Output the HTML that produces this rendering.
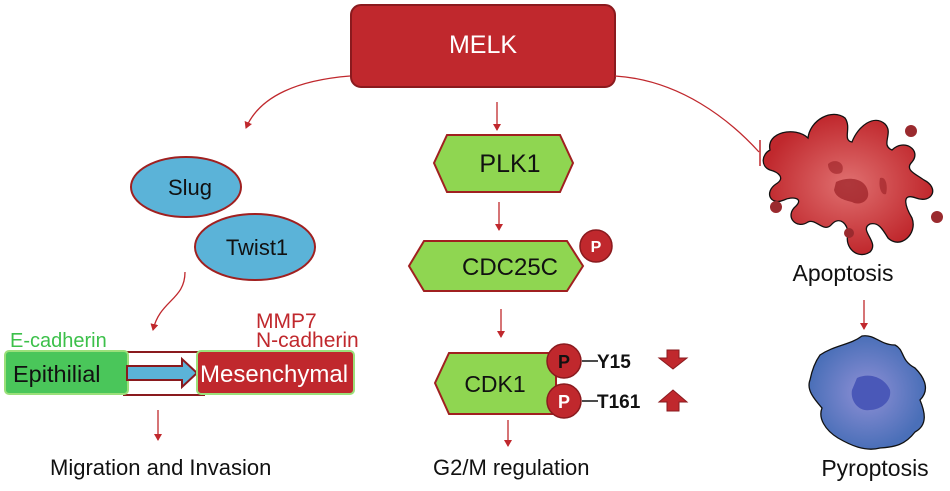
<!DOCTYPE html>
<html><head><meta charset="utf-8"><style>
html,body{margin:0;padding:0;background:#fff;}
svg{display:block;font-family:"Liberation Sans",Arial,sans-serif;}
</style></head><body>
<svg width="950" height="491" viewBox="0 0 950 491" xmlns="http://www.w3.org/2000/svg">
<defs>
<marker id="ah" markerWidth="8" markerHeight="8" refX="6" refY="4" orient="auto" markerUnits="userSpaceOnUse">
<path d="M0,0 L7,4 L0,8 Z" fill="#c0282d"/></marker>
<radialGradient id="rg" cx="50%" cy="50%" r="50%"><stop offset="0" stop-color="#e07070"/><stop offset="1" stop-color="#c0282d"/></radialGradient>
<radialGradient id="bg" cx="50%" cy="50%" r="50%"><stop offset="0" stop-color="#8f90d6"/><stop offset="1" stop-color="#4a6fb8"/></radialGradient>
</defs>
<!-- MELK -->
<rect x="351" y="5" width="264" height="82" rx="10" fill="#c0282d" stroke="#8a1a1e" stroke-width="2"/>
<text x="483" y="53" font-size="25" fill="#fff" text-anchor="middle">MELK</text>
<!-- connectors -->
<path d="M350,76 C300,80 260,95 246,128" fill="none" stroke="#c0282d" stroke-width="1.3" marker-end="url(#ah)"/>
<line x1="497" y1="102" x2="497" y2="130" stroke="#c0282d" stroke-width="1.3" marker-end="url(#ah)"/>
<path d="M615,76 C680,80 730,120 759,152" fill="none" stroke="#c0282d" stroke-width="1.3"/>
<line x1="760" y1="140" x2="760" y2="166" stroke="#c0282d" stroke-width="1.5"/>
<!-- Slug / Twist1 -->
<ellipse cx="186" cy="187" rx="55" ry="30" fill="#5bb3d8" stroke="#a02020" stroke-width="2"/>
<text x="190" y="195" font-size="22" text-anchor="middle" fill="#111">Slug</text>
<ellipse cx="255" cy="247" rx="60" ry="33" fill="#5bb3d8" stroke="#a02020" stroke-width="2"/>
<text x="257" y="255" font-size="22" text-anchor="middle" fill="#111">Twist1</text>
<path d="M185,272 C185,300 160,300 153,330" fill="none" stroke="#c0282d" stroke-width="1.3" marker-end="url(#ah)"/>
<!-- EMT -->
<text x="10" y="347" font-size="20" fill="#3cc04a">E-cadherin</text>
<text x="256" y="328" font-size="21" fill="#c0282d">MMP7</text>
<text x="256" y="347" font-size="21" fill="#c0282d">N-cadherin</text>
<rect x="124" y="352" width="80" height="43" fill="#fff" stroke="#8a1a1e" stroke-width="2"/>
<rect x="5" y="351" width="123" height="43" rx="4" fill="#4ac65a" stroke="#9be07a" stroke-width="2"/>
<text x="13" y="382" font-size="23.5" fill="#111">Epithilial</text>
<path d="M127,366 L182,366 L182,359 L197,373 L182,387 L182,380 L127,380 Z" fill="#5bb3d8" stroke="#8a1a1e" stroke-width="2"/>
<rect x="197" y="351" width="157" height="43" rx="4" fill="#c0282d" stroke="#9be07a" stroke-width="2"/>
<text x="200" y="382" font-size="24" fill="#fff">Mesenchymal</text>
<line x1="158" y1="410" x2="158" y2="440" stroke="#c0282d" stroke-width="1.3" marker-end="url(#ah)"/>
<text x="50" y="475" font-size="22" fill="#111">Migration and Invasion</text>
<!-- central column -->
<polygon points="447,135 560,135 573,163 560,192 447,192 434,163" fill="#8fd651" stroke="#a02020" stroke-width="2"/>
<text x="510" y="172" font-size="25" text-anchor="middle" fill="#111">PLK1</text>
<line x1="499" y1="202" x2="499" y2="230" stroke="#c0282d" stroke-width="1.3" marker-end="url(#ah)"/>
<polygon points="424,241 567,241 583,266 567,291 424,291 409,266" fill="#8fd651" stroke="#a02020" stroke-width="2"/>
<text x="510" y="275" font-size="24" text-anchor="middle" fill="#111">CDC25C</text>
<circle cx="596" cy="246" r="16" fill="#c0282d" stroke="#8a1a1e" stroke-width="1.5"/>
<text x="596" y="252" font-size="16" font-weight="bold" text-anchor="middle" fill="#fff">P</text>
<line x1="501" y1="309" x2="501" y2="337" stroke="#c0282d" stroke-width="1.3" marker-end="url(#ah)"/>
<polygon points="449,353 556,353 556,414 449,414 435,383" fill="#8fd651" stroke="#a02020" stroke-width="2"/>
<text x="495" y="392" font-size="23" text-anchor="middle" fill="#111">CDK1</text>
<circle cx="564" cy="361" r="17" fill="#c0282d" stroke="#8a1a1e" stroke-width="1.5"/>
<text x="564" y="368" font-size="18" font-weight="bold" text-anchor="middle" fill="#111">P</text>
<circle cx="564" cy="401" r="17" fill="#c0282d" stroke="#8a1a1e" stroke-width="1.5"/>
<text x="564" y="408" font-size="18" font-weight="bold" text-anchor="middle" fill="#fff">P</text>
<line x1="582" y1="361" x2="598" y2="361" stroke="#111" stroke-width="1.5"/>
<text x="597" y="368" font-size="19" font-weight="bold" fill="#111">Y15</text>
<line x1="582" y1="401" x2="598" y2="401" stroke="#111" stroke-width="1.5"/>
<text x="597" y="408" font-size="19" font-weight="bold" fill="#111">T161</text>
<path d="M667,350 L679,350 L679,358 L687,358 L673,369 L659,358 L667,358 Z" fill="#c0282d" stroke="#8a1a1e"/>
<path d="M667,411 L679,411 L679,402 L687,402 L673,390 L659,402 L667,402 Z" fill="#c0282d" stroke="#8a1a1e"/>
<line x1="508" y1="420" x2="508" y2="446" stroke="#c0282d" stroke-width="1.3" marker-end="url(#ah)"/>
<text x="433" y="475" font-size="22" fill="#111">G2/M regulation</text>
<!-- Apoptosis -->
<path d="M770,150 C766,132 795,126 808,138 C810,120 832,108 845,118 C852,128 842,140 852,142 C858,126 874,114 885,124 C894,133 880,145 892,150 C904,138 922,150 912,162 C904,170 916,174 924,180 C940,188 932,204 916,198 C900,192 906,208 912,218 C918,234 900,250 888,238 C882,228 878,222 870,224 C858,230 880,242 870,252 C858,260 844,248 848,234 C848,224 840,216 832,224 C824,234 816,218 808,222 C796,230 784,216 796,206 C804,198 792,196 784,200 C770,206 764,192 776,184 C786,178 778,172 770,170 C760,166 762,154 770,150 Z" fill="url(#rg)" stroke="#111" stroke-width="1.3"/>
<path d="M836,182 C848,176 866,178 868,192 C870,202 858,206 852,202 C844,200 836,198 834,190 Z" fill="#9a2025" opacity="0.7"/>
<path d="M828,164 C834,158 846,162 842,172 C838,176 828,174 828,164 Z" fill="#9a2025" opacity="0.6"/>
<path d="M880,178 C886,176 888,186 886,194 C882,196 878,188 880,178 Z" fill="#9a2025" opacity="0.6"/>
<circle cx="911" cy="131" r="6" fill="#9a2a2e"/>
<circle cx="776" cy="207" r="6" fill="#9a2a2e"/>
<circle cx="850" cy="232" r="0" fill="#9a2a2e"/>
<circle cx="937" cy="217" r="6" fill="#9a2a2e"/>
<circle cx="849" cy="233" r="5" fill="#9a2a2e"/>
<text x="843" y="281" font-size="23" text-anchor="middle" fill="#111">Apoptosis</text>
<line x1="864" y1="300" x2="864" y2="329" stroke="#c0282d" stroke-width="1.3" marker-end="url(#ah)"/>
<!-- Pyroptosis -->
<path d="M820,355 C835,345 850,345 862,336 C875,334 880,345 895,345 C905,350 900,360 915,368 C925,378 930,390 920,400 C925,412 928,425 915,432 C905,445 895,447 880,448 C865,452 850,445 838,438 C825,430 818,418 822,408 C815,400 806,390 810,380 C812,370 815,362 820,355 Z" fill="url(#bg)" stroke="#111" stroke-width="1.3"/>
<path d="M857,378 C870,372 885,378 890,390 C892,402 880,410 870,410 C858,412 850,400 852,390 Z" fill="#4a58b8"/>
<text x="875" y="476" font-size="23" text-anchor="middle" fill="#111">Pyroptosis</text>
</svg>
</body></html>
